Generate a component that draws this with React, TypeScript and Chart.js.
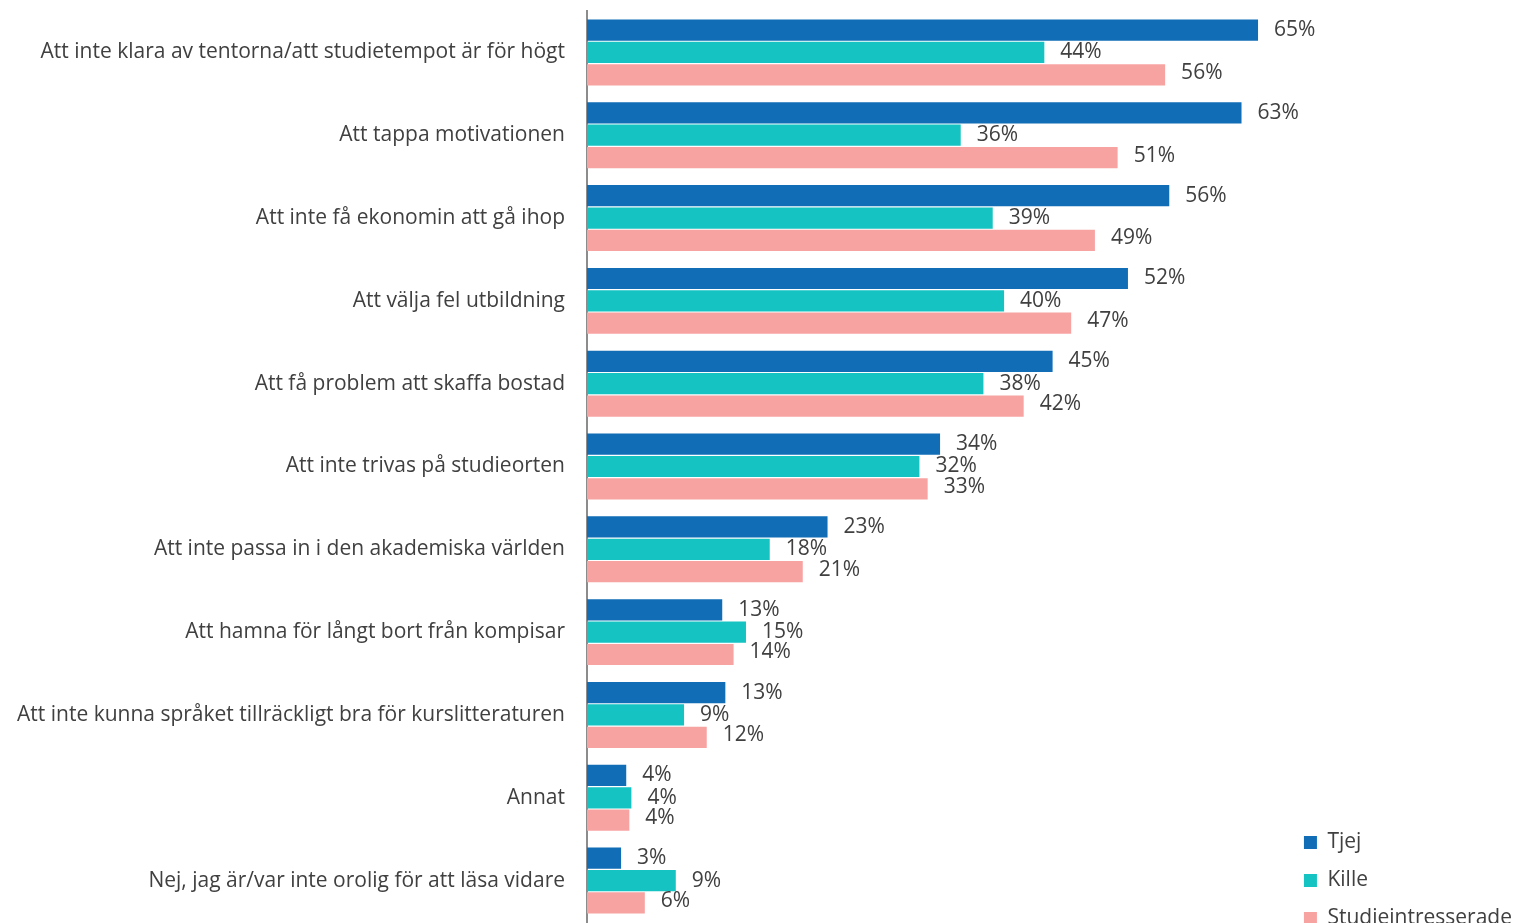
import React, { useEffect, useRef } from "react";
import { Chart, registerables } from "chart.js";

Chart.register(...registerables);

const categories = [
  "Att inte klara av tentorna/att studietempot är för högt",
  "Att tappa motivationen",
  "Att inte få ekonomin att gå ihop",
  "Att välja fel utbildning",
  "Att få problem att skaffa bostad",
  "Att inte trivas på studieorten",
  "Att inte passa in i den akademiska världen",
  "Att hamna för långt bort från kompisar",
  "Att inte kunna språket tillräckligt bra för kurslitteraturen",
  "Annat",
  "Nej, jag är/var inte orolig för att läsa vidare",
];

const tjej = [65.0, 63.4, 56.4, 52.4, 45.1, 34.2, 23.3, 13.1, 13.4, 3.8, 3.3];
const kille = [44.3, 36.2, 39.3, 40.4, 38.4, 32.2, 17.7, 15.4, 9.4, 4.3, 8.6];
const studie = [56.0, 51.4, 49.2, 46.9, 42.3, 33.0, 20.9, 14.2, 11.6, 4.1, 5.6];

const seriesNames = ["Tjej", "Kille", "Studieintresserade"];
const seriesColors = ["#116DB6", "#15C3C2", "#F7A3A2"];

const FONT = "'Open Sans', 'Noto Sans', sans-serif";
const FONT_SIZE = 21;
const TEXT = "#404040";

const valueLabels = {
  id: "valueLabels",
  afterDatasetsDraw(chart: any) {
    const ctx = chart.ctx;
    ctx.save();
    ctx.font = `${FONT_SIZE}px ${FONT}`;
    ctx.fillStyle = TEXT;
    ctx.textAlign = "left";
    ctx.textBaseline = "middle";
    chart.data.datasets.forEach((ds: any, di: number) => {
      const meta = chart.getDatasetMeta(di);
      meta.data.forEach((el: any, i: number) => {
        const v = ds.data[i];
        const dy = di === 2 ? -2 : 0;
        ctx.fillText(`${Math.round(v)}%`, el.x + 16, el.y + dy);
      });
    });
    ctx.restore();
  },
};

export default function App() {
  const ref = useRef<HTMLCanvasElement | null>(null);

  useEffect(() => {
    if (!ref.current) return;
    const data = [tjej, kille, studie];
    const chart = new Chart(ref.current, {
      type: "bar",
      data: {
        labels: categories,
        datasets: seriesNames.map((name, i) => ({
          label: name,
          data: data[i],
          backgroundColor: seriesColors[i],
          borderWidth: 0,
          barPercentage: 0.95,
          categoryPercentage: 0.81,
        })),
      },
      options: {
        indexAxis: "y",
        responsive: false,
        animation: false,
        devicePixelRatio: 1,
        layout: { padding: { top: 11, bottom: 0, left: 0, right: -5 } },
        plugins: {
          legend: {
            position: "right",
            align: "end",
            labels: {
              boxWidth: 13,
              boxHeight: 13,
              padding: 17,
              color: TEXT,
              font: { family: FONT, size: FONT_SIZE },
            },
          },
          tooltip: { enabled: false },
        },
        scales: {
          x: {
            min: 0,
            max: 67.8,
            position: "bottom",
            grid: { display: false, drawTicks: false },
            border: { display: false },
            ticks: { display: false },
            afterFit: (scale: any) => {
              scale.height = 24;
            },
          },
          y: {
            grid: { display: false, drawTicks: false },
            border: { display: true, color: "#8C8C8C", width: 2 },
            ticks: {
              color: TEXT,
              padding: 22,
              font: { family: FONT, size: FONT_SIZE },
            },
            afterFit: (scale: any) => {
              scale.width = 587;
              scale.paddingTop = 0;
              scale.paddingBottom = 0;
            },
          },
        },
      },
      plugins: [valueLabels],
    });
    return () => chart.destroy();
  }, []);

  return (
    <div style={{ position: "absolute", left: 0, top: 0, width: 1517, height: 946 }}>
      <canvas ref={ref} width={1517} height={946} style={{ width: 1517, height: 946 }} />
    </div>
  );
}
